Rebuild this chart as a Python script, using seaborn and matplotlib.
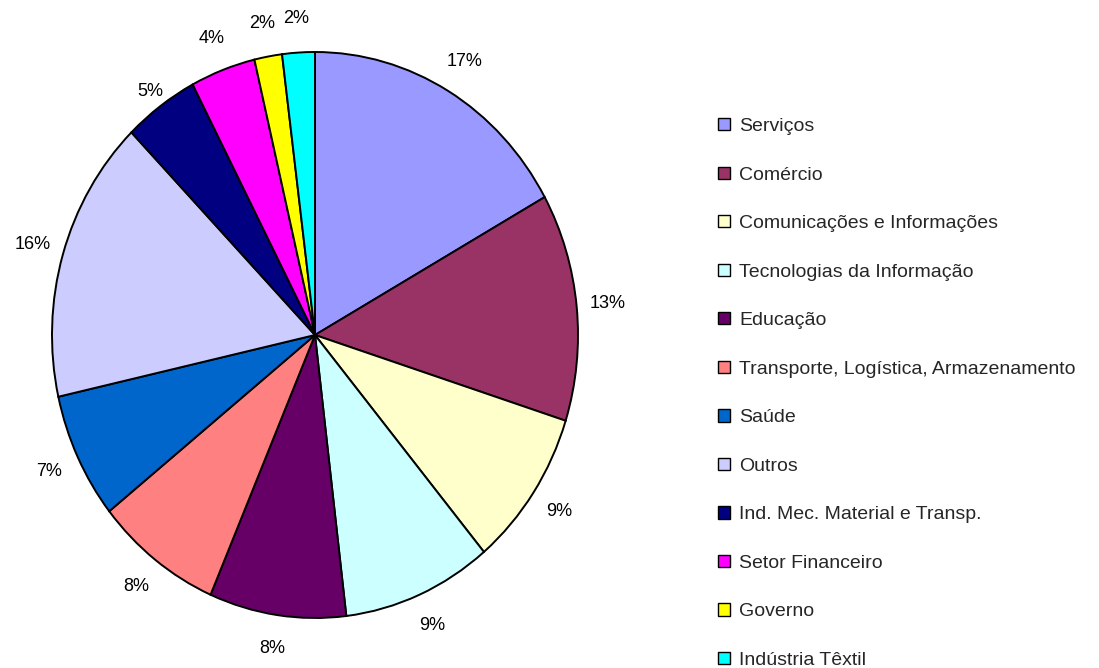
import matplotlib
matplotlib.use("Agg")
import matplotlib.pyplot as plt
import seaborn as sns

# Sector shares (%)
sectors = ["Serviços", "Comércio", "Comunicações e Informações",
           "Tecnologias da Informação", "Educação",
           "Transporte, Logística, Armazenamento", "Saúde", "Outros",
           "Ind. Mec. Material e Transp.", "Setor Financeiro", "Governo",
           "Indústria Têxtil"]
shares = [16.9, 13.0, 9.0, 9.2, 8.4, 7.8, 7.2, 16.2, 4.6, 4.0, 1.7, 2.0]
colors = ["#9999FF", "#993366", "#FFFFCC", "#CCFFFF", "#660066", "#FF8080",
          "#0066CC", "#CCCCFF", "#000080", "#FF00FF", "#FFFF00", "#00FFFF"]

sns.set_style("white")
plt.rcParams['font.family'] = ['Liberation Sans', 'DejaVu Sans']

fig = plt.figure(figsize=(10.99, 6.68), dpi=100)
ax = fig.add_axes([52 / 1099, 50 / 668, 526 / 1099, 566 / 668])

wedges, texts, autotexts = ax.pie(
    shares, colors=sns.color_palette(colors), startangle=90, counterclock=False,
    autopct='%1.0f%%', pctdistance=1.12,
    wedgeprops=dict(edgecolor='black', linewidth=1.4),
    textprops=dict(fontsize=13, color='black'))

# stretched (elliptical) pie like the original
ax.set_aspect('auto')
ax.set_xlim(-1, 1)
ax.set_ylim(-1, 1)
for t in autotexts:
    t.set_clip_on(False)
# the 5% label sits a bit closer to the pie in the original
x5, y5 = autotexts[8].get_position()
autotexts[8].set_position((x5 * 0.95, y5 * 0.95))

leg = fig.legend(wedges, sectors, loc='upper left',
                 bbox_to_anchor=(718 / 1099, 1 - 118 / 668),
                 frameon=False, fontsize=14, handlelength=0.6,
                 handleheight=0.6, handletextpad=0.5, labelspacing=1.62,
                 borderaxespad=0, borderpad=0)
for h in leg.legend_handles:
    h.set_linewidth(1.0)

fig.savefig("out.png", dpi=100)
